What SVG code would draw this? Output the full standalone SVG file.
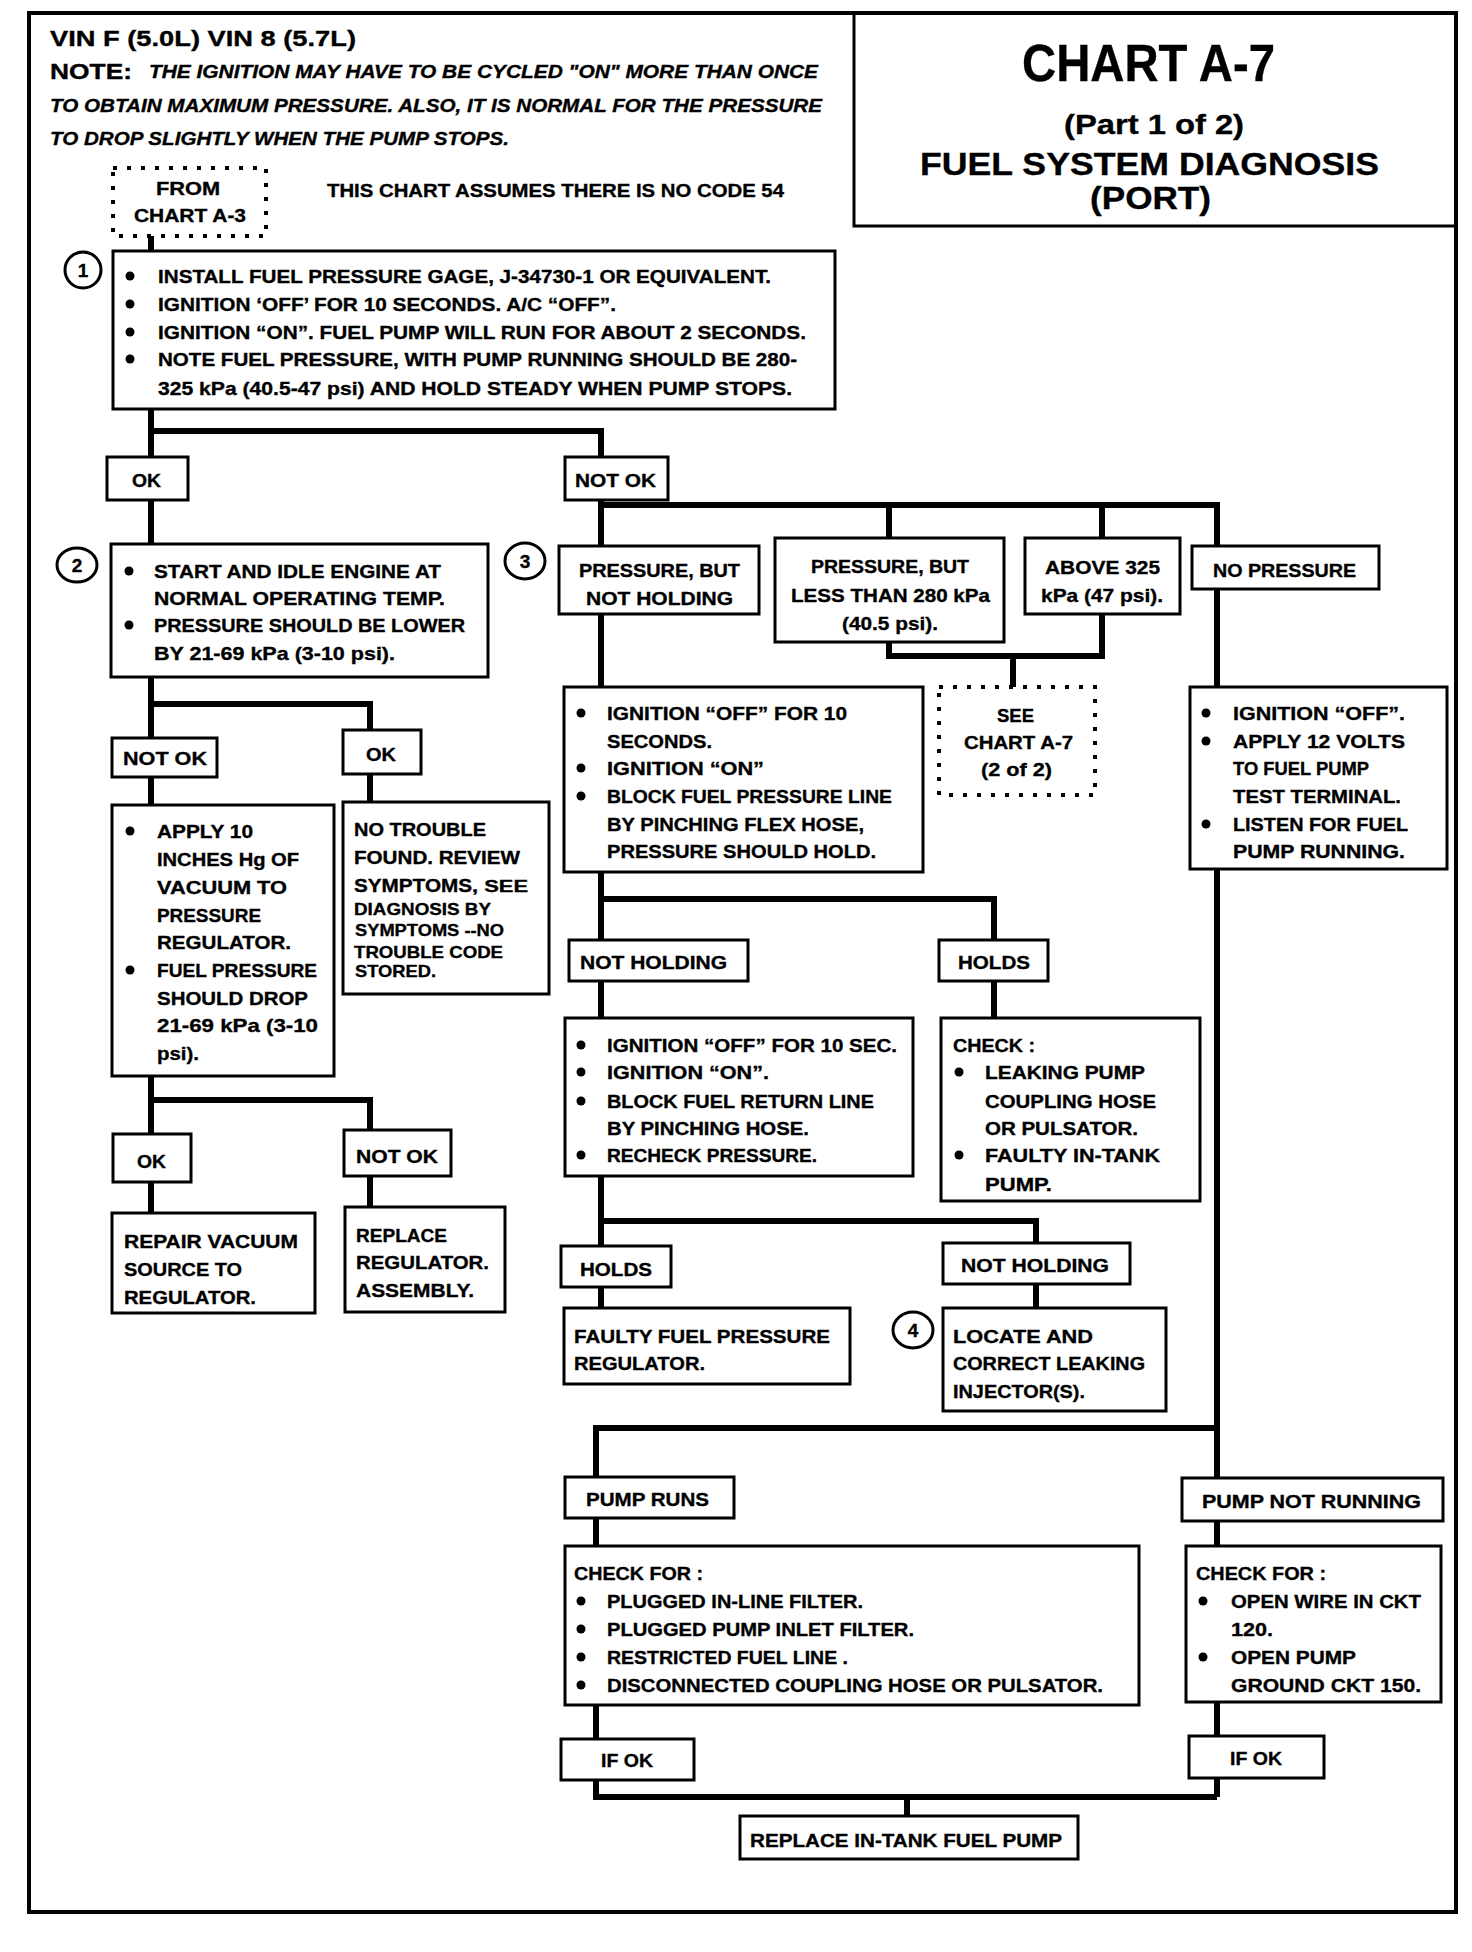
<svg xmlns="http://www.w3.org/2000/svg" width="1472" height="1952" viewBox="0 0 1472 1952">
<style>
.b{fill:#fff;stroke:#000;stroke-width:3}
.d{fill:#fff;stroke:#000;stroke-width:4;stroke-dasharray:4 10}
.c{fill:none;stroke:#000;stroke-width:6;stroke-linejoin:miter;stroke-linecap:butt}
.fr{fill:none;stroke:#000}
text{font-family:"Liberation Sans",Arial,sans-serif;font-weight:bold;font-size:19px;fill:#000;stroke:#000;stroke-width:0.35}
.i{font-style:italic;font-size:18px}
.s{font-size:17px}
.n{text-anchor:middle;font-size:19px}
.t1{font-size:52px}
.t2{font-size:28px}
.t3{font-size:32px}
.v{font-size:22px}
.u{fill:#000}
</style>
<rect x="0" y="0" width="1472" height="1952" fill="#fff"/>
<g id="frame">
<rect class="fr" x="29" y="13" width="1427" height="1899" stroke-width="4"/>
<rect class="fr" x="854" y="13" width="602" height="213" stroke-width="3"/>
</g>
<g id="title">
<text class="t1" x="1022" y="81" textLength="253" lengthAdjust="spacingAndGlyphs">CHART A-7</text>
<text class="t2" x="1064" y="134" textLength="180" lengthAdjust="spacingAndGlyphs">(Part 1 of 2)</text>
<text class="t3" x="920" y="175" textLength="459" lengthAdjust="spacingAndGlyphs">FUEL SYSTEM DIAGNOSIS</text>
<text class="t3" x="1090" y="209" textLength="121" lengthAdjust="spacingAndGlyphs">(PORT)</text>
</g>
<g id="header">
<text class="v" x="50" y="46" textLength="306" lengthAdjust="spacingAndGlyphs">VIN F (5.0L)    VIN 8 (5.7L)</text>
<text class="v" x="50" y="79" textLength="82" lengthAdjust="spacingAndGlyphs">NOTE:</text>
<text class="i" x="149" y="78" textLength="669" lengthAdjust="spacingAndGlyphs">THE IGNITION MAY HAVE TO BE CYCLED "ON" MORE THAN ONCE</text>
<text class="i" x="50" y="112" textLength="772" lengthAdjust="spacingAndGlyphs">TO OBTAIN MAXIMUM PRESSURE.  ALSO, IT IS NORMAL  FOR THE PRESSURE</text>
<text class="i" x="50" y="145" textLength="459" lengthAdjust="spacingAndGlyphs">TO DROP SLIGHTLY WHEN THE PUMP STOPS.</text>
<text x="327" y="197" textLength="457" lengthAdjust="spacingAndGlyphs">THIS CHART ASSUMES THERE IS NO CODE 54</text>
</g>
<g id="connectors">
<path class="c" d="M151,236 V251"/>
<path class="c" d="M151,409 V1213"/>
<path class="c" d="M151,431 H601 V1308"/>
<path class="c" d="M151,704 H370 V802"/>
<path class="c" d="M151,1100 H370 V1207"/>
<path class="c" d="M601,505 H1217 V1797"/>
<path class="c" d="M889,505 V538"/>
<path class="c" d="M1102,505 V538"/>
<path class="c" d="M889,642 V656 H1102 V614"/>
<path class="c" d="M1013,656 V687"/>
<path class="c" d="M601,899 H994 V1018"/>
<path class="c" d="M601,1221 H1036 V1308"/>
<path class="c" d="M1217,1428 H596 V1797 H1217"/>
<path class="c" d="M907,1797 V1816"/>
</g>
<g id="from">
<rect class="d" x="113" y="168" width="153" height="68"/>
<text x="156" y="195" textLength="64" lengthAdjust="spacingAndGlyphs">FROM</text>
<text x="134" y="222" textLength="112" lengthAdjust="spacingAndGlyphs">CHART A-3</text>
</g>
<g id="step1">
<ellipse class="b" cx="83" cy="270" rx="18" ry="18" stroke-width="2.5"/>
<text class="n" x="83" y="277">1</text>
<rect class="b" x="113" y="251" width="722" height="158"/>
<circle class="u" cx="130" cy="276" r="4.5"/><circle class="u" cx="130" cy="304" r="4.5"/><circle class="u" cx="130" cy="332" r="4.5"/><circle class="u" cx="130" cy="359" r="4.5"/>
<text x="158" y="283" textLength="613" lengthAdjust="spacingAndGlyphs">INSTALL FUEL PRESSURE GAGE, J-34730-1 OR  EQUIVALENT.</text>
<text x="158" y="311" textLength="458" lengthAdjust="spacingAndGlyphs">IGNITION ‘OFF’ FOR 10 SECONDS.  A/C “OFF”.</text>
<text x="158" y="339" textLength="648" lengthAdjust="spacingAndGlyphs">IGNITION “ON”.  FUEL PUMP WILL RUN FOR ABOUT 2 SECONDS.</text>
<text x="158" y="366" textLength="639" lengthAdjust="spacingAndGlyphs">NOTE FUEL PRESSURE, WITH PUMP RUNNING  SHOULD BE 280-</text>
<text x="158" y="395" textLength="634" lengthAdjust="spacingAndGlyphs">325 kPa  (40.5-47 psi) AND HOLD STEADY WHEN PUMP STOPS.</text>
</g>
<g id="ok1">
<rect class="b" x="107" y="457" width="81" height="43"/>
<text x="132" y="487" textLength="29" lengthAdjust="spacingAndGlyphs">OK</text>
</g>
<g id="notok1">
<rect class="b" x="565" y="457" width="103" height="43"/>
<text x="575" y="487" textLength="81" lengthAdjust="spacingAndGlyphs">NOT OK</text>
</g>
<g id="step2">
<ellipse class="b" cx="77" cy="565" rx="20" ry="17" stroke-width="2.5"/>
<text class="n" x="77" y="572">2</text>
<rect class="b" x="111" y="544" width="377" height="133"/>
<circle class="u" cx="129" cy="571" r="4.5"/><circle class="u" cx="129" cy="625" r="4.5"/>
<text x="154" y="578" textLength="287" lengthAdjust="spacingAndGlyphs">START AND IDLE ENGINE AT</text>
<text x="154" y="605" textLength="291" lengthAdjust="spacingAndGlyphs">NORMAL OPERATING TEMP.</text>
<text x="154" y="632" textLength="311" lengthAdjust="spacingAndGlyphs">PRESSURE SHOULD BE LOWER</text>
<text x="154" y="660" textLength="241" lengthAdjust="spacingAndGlyphs">BY 21-69 kPa  (3-10 psi).</text>
</g>
<g id="notok2">
<rect class="b" x="112" y="738" width="105" height="39"/>
<text x="123" y="765" textLength="84" lengthAdjust="spacingAndGlyphs">NOT OK</text>
</g>
<g id="ok2">
<rect class="b" x="343" y="730" width="78" height="44"/>
<text x="366" y="761" textLength="30" lengthAdjust="spacingAndGlyphs">OK</text>
</g>
<g id="vacuum">
<rect class="b" x="112" y="805" width="222" height="271"/>
<circle class="u" cx="130" cy="831" r="4.5"/><circle class="u" cx="130" cy="970" r="4.5"/>
<text x="157" y="838" textLength="96" lengthAdjust="spacingAndGlyphs">APPLY 10</text>
<text x="157" y="866" textLength="142" lengthAdjust="spacingAndGlyphs">INCHES Hg OF</text>
<text x="157" y="894" textLength="130" lengthAdjust="spacingAndGlyphs">VACUUM TO</text>
<text x="157" y="922" textLength="104" lengthAdjust="spacingAndGlyphs">PRESSURE</text>
<text x="157" y="949" textLength="134" lengthAdjust="spacingAndGlyphs">REGULATOR.</text>
<text x="157" y="977" textLength="160" lengthAdjust="spacingAndGlyphs">FUEL PRESSURE</text>
<text x="157" y="1005" textLength="151" lengthAdjust="spacingAndGlyphs">SHOULD DROP</text>
<text x="157" y="1032" textLength="161" lengthAdjust="spacingAndGlyphs">21-69 kPa  (3-10</text>
<text x="157" y="1060" textLength="42" lengthAdjust="spacingAndGlyphs">psi).</text>
</g>
<g id="notrouble">
<rect class="b" x="343" y="802" width="206" height="192"/>
<text x="354" y="836" textLength="132" lengthAdjust="spacingAndGlyphs">NO TROUBLE</text>
<text x="354" y="864" textLength="166" lengthAdjust="spacingAndGlyphs">FOUND. REVIEW</text>
<text x="354" y="892" textLength="118" lengthAdjust="spacingAndGlyphs">SYMPTOMS</text>
<text class="s" x="472" y="892" textLength="56" lengthAdjust="spacingAndGlyphs">, SEE</text>
<text class="s" x="354" y="915" textLength="137" lengthAdjust="spacingAndGlyphs">DIAGNOSIS  BY</text>
<text class="s" x="355" y="936" textLength="149" lengthAdjust="spacingAndGlyphs">SYMPTOMS --NO</text>
<text class="s" x="354" y="958" textLength="149" lengthAdjust="spacingAndGlyphs">TROUBLE  CODE</text>
<text class="s" x="355" y="977" textLength="81" lengthAdjust="spacingAndGlyphs">STORED.</text>
</g>
<g id="ok3">
<rect class="b" x="113" y="1134" width="78" height="48"/>
<text x="137" y="1168" textLength="29" lengthAdjust="spacingAndGlyphs">OK</text>
</g>
<g id="notok3">
<rect class="b" x="344" y="1130" width="107" height="46"/>
<text x="356" y="1163" textLength="82" lengthAdjust="spacingAndGlyphs">NOT OK</text>
</g>
<g id="repairvacuum">
<rect class="b" x="112" y="1213" width="203" height="100"/>
<text x="124" y="1248" textLength="174" lengthAdjust="spacingAndGlyphs">REPAIR VACUUM</text>
<text x="124" y="1276" textLength="118" lengthAdjust="spacingAndGlyphs">SOURCE TO</text>
<text x="124" y="1304" textLength="132" lengthAdjust="spacingAndGlyphs">REGULATOR.</text>
</g>
<g id="replaceregulator">
<rect class="b" x="345" y="1207" width="160" height="105"/>
<text x="356" y="1242" textLength="91" lengthAdjust="spacingAndGlyphs">REPLACE</text>
<text x="356" y="1269" textLength="133" lengthAdjust="spacingAndGlyphs">REGULATOR.</text>
<text x="356" y="1297" textLength="118" lengthAdjust="spacingAndGlyphs">ASSEMBLY.</text>
</g>
<g id="step3">
<ellipse class="b" cx="525" cy="561" rx="20" ry="18" stroke-width="2.5"/>
<text class="n" x="525" y="568">3</text>
</g>
<g id="notholdingpressure">
<rect class="b" x="559" y="546" width="200" height="68"/>
<text x="579" y="577" textLength="161" lengthAdjust="spacingAndGlyphs">PRESSURE,  BUT</text>
<text x="586" y="605" textLength="147" lengthAdjust="spacingAndGlyphs">NOT HOLDING</text>
</g>
<g id="lesspressure">
<rect class="b" x="775" y="538" width="229" height="104"/>
<text x="811" y="573" textLength="158" lengthAdjust="spacingAndGlyphs">PRESSURE, BUT</text>
<text x="791" y="602" textLength="199" lengthAdjust="spacingAndGlyphs">LESS THAN 280 kPa</text>
<text x="842" y="630" textLength="96" lengthAdjust="spacingAndGlyphs">(40.5 psi).</text>
</g>
<g id="above">
<rect class="b" x="1025" y="538" width="155" height="76"/>
<text x="1045" y="574" textLength="115" lengthAdjust="spacingAndGlyphs">ABOVE 325</text>
<text x="1041" y="602" textLength="122" lengthAdjust="spacingAndGlyphs">kPa (47 psi).</text>
</g>
<g id="nopressure">
<rect class="b" x="1192" y="546" width="187" height="43"/>
<text x="1213" y="577" textLength="143" lengthAdjust="spacingAndGlyphs">NO PRESSURE</text>
</g>
<g id="see">
<rect class="d" x="939" y="687" width="156" height="108"/>
<text x="997" y="722" textLength="37" lengthAdjust="spacingAndGlyphs">SEE</text>
<text x="964" y="749" textLength="109" lengthAdjust="spacingAndGlyphs">CHART A-7</text>
<text x="981" y="776" textLength="71" lengthAdjust="spacingAndGlyphs">(2 of 2)</text>
</g>
<g id="blockpressure">
<rect class="b" x="564" y="687" width="359" height="185"/>
<circle class="u" cx="581" cy="713" r="4.5"/><circle class="u" cx="581" cy="768" r="4.5"/><circle class="u" cx="581" cy="796" r="4.5"/>
<text x="607" y="720" textLength="240" lengthAdjust="spacingAndGlyphs">IGNITION “OFF” FOR 10</text>
<text x="607" y="748" textLength="105" lengthAdjust="spacingAndGlyphs">SECONDS.</text>
<text x="607" y="775" textLength="157" lengthAdjust="spacingAndGlyphs">IGNITION “ON”</text>
<text x="607" y="803" textLength="285" lengthAdjust="spacingAndGlyphs">BLOCK FUEL PRESSURE LINE</text>
<text x="607" y="831" textLength="257" lengthAdjust="spacingAndGlyphs">BY PINCHING FLEX HOSE,</text>
<text x="607" y="858" textLength="269" lengthAdjust="spacingAndGlyphs">PRESSURE SHOULD HOLD.</text>
</g>
<g id="testterminal">
<rect class="b" x="1190" y="687" width="257" height="182"/>
<circle class="u" cx="1206" cy="713" r="4.5"/><circle class="u" cx="1206" cy="741" r="4.5"/><circle class="u" cx="1206" cy="824" r="4.5"/>
<text x="1233" y="720" textLength="172" lengthAdjust="spacingAndGlyphs">IGNITION “OFF”.</text>
<text x="1233" y="748" textLength="172" lengthAdjust="spacingAndGlyphs">APPLY 12 VOLTS</text>
<text x="1233" y="775" textLength="136" lengthAdjust="spacingAndGlyphs">TO FUEL PUMP</text>
<text x="1233" y="803" textLength="168" lengthAdjust="spacingAndGlyphs">TEST TERMINAL.</text>
<text x="1233" y="831" textLength="175" lengthAdjust="spacingAndGlyphs">LISTEN FOR FUEL</text>
<text x="1233" y="858" textLength="172" lengthAdjust="spacingAndGlyphs">PUMP RUNNING.</text>
</g>
<g id="notholding1">
<rect class="b" x="569" y="940" width="179" height="41"/>
<text x="580" y="969" textLength="147" lengthAdjust="spacingAndGlyphs">NOT HOLDING</text>
</g>
<g id="holds1">
<rect class="b" x="939" y="940" width="109" height="41"/>
<text x="958" y="969" textLength="72" lengthAdjust="spacingAndGlyphs">HOLDS</text>
</g>
<g id="blockreturn">
<rect class="b" x="565" y="1018" width="348" height="158"/>
<circle class="u" cx="581" cy="1045" r="4.5"/><circle class="u" cx="581" cy="1072" r="4.5"/><circle class="u" cx="581" cy="1101" r="4.5"/><circle class="u" cx="581" cy="1155" r="4.5"/>
<text x="607" y="1052" textLength="290" lengthAdjust="spacingAndGlyphs">IGNITION “OFF” FOR 10 SEC.</text>
<text x="607" y="1079" textLength="162" lengthAdjust="spacingAndGlyphs">IGNITION “ON”.</text>
<text x="607" y="1108" textLength="267" lengthAdjust="spacingAndGlyphs">BLOCK  FUEL RETURN LINE</text>
<text x="607" y="1135" textLength="202" lengthAdjust="spacingAndGlyphs">BY PINCHING HOSE.</text>
<text x="607" y="1162" textLength="210" lengthAdjust="spacingAndGlyphs">RECHECK PRESSURE.</text>
</g>
<g id="checkleak">
<rect class="b" x="941" y="1018" width="259" height="183"/>
<text x="953" y="1052" textLength="82" lengthAdjust="spacingAndGlyphs">CHECK :</text>
<circle class="u" cx="959" cy="1072" r="4.5"/><circle class="u" cx="959" cy="1155" r="4.5"/>
<text x="985" y="1079" textLength="160" lengthAdjust="spacingAndGlyphs">LEAKING PUMP</text>
<text x="985" y="1108" textLength="171" lengthAdjust="spacingAndGlyphs">COUPLING HOSE</text>
<text x="985" y="1135" textLength="153" lengthAdjust="spacingAndGlyphs">OR PULSATOR.</text>
<text x="985" y="1162" textLength="175" lengthAdjust="spacingAndGlyphs">FAULTY IN-TANK</text>
<text x="985" y="1191" textLength="67" lengthAdjust="spacingAndGlyphs">PUMP.</text>
</g>
<g id="holds2">
<rect class="b" x="561" y="1246" width="110" height="41"/>
<text x="580" y="1276" textLength="72" lengthAdjust="spacingAndGlyphs">HOLDS</text>
</g>
<g id="notholding2">
<rect class="b" x="943" y="1243" width="187" height="41"/>
<text x="961" y="1272" textLength="148" lengthAdjust="spacingAndGlyphs">NOT HOLDING</text>
</g>
<g id="faultyregulator">
<rect class="b" x="564" y="1308" width="286" height="76"/>
<text x="574" y="1343" textLength="256" lengthAdjust="spacingAndGlyphs">FAULTY  FUEL  PRESSURE</text>
<text x="574" y="1370" textLength="131" lengthAdjust="spacingAndGlyphs">REGULATOR.</text>
</g>
<g id="step4">
<ellipse class="b" cx="913" cy="1330" rx="20" ry="18" stroke-width="2.5"/>
<text class="n" x="913" y="1337">4</text>
</g>
<g id="injector">
<rect class="b" x="943" y="1308" width="223" height="103"/>
<text x="953" y="1343" textLength="140" lengthAdjust="spacingAndGlyphs">LOCATE  AND</text>
<text x="953" y="1370" textLength="192" lengthAdjust="spacingAndGlyphs">CORRECT LEAKING</text>
<text x="953" y="1398" textLength="132" lengthAdjust="spacingAndGlyphs">INJECTOR(S).</text>
</g>
<g id="pumpruns">
<rect class="b" x="565" y="1477" width="169" height="41"/>
<text x="586" y="1506" textLength="123" lengthAdjust="spacingAndGlyphs">PUMP RUNS</text>
</g>
<g id="pumpnotrunning">
<rect class="b" x="1182" y="1478" width="261" height="43"/>
<text x="1202" y="1508" textLength="219" lengthAdjust="spacingAndGlyphs">PUMP NOT RUNNING</text>
</g>
<g id="checkfilters">
<rect class="b" x="565" y="1546" width="574" height="159"/>
<text x="574" y="1580" textLength="129" lengthAdjust="spacingAndGlyphs">CHECK FOR :</text>
<circle class="u" cx="581" cy="1601" r="4.5"/><circle class="u" cx="581" cy="1629" r="4.5"/><circle class="u" cx="581" cy="1657" r="4.5"/><circle class="u" cx="581" cy="1685" r="4.5"/>
<text x="607" y="1608" textLength="256" lengthAdjust="spacingAndGlyphs">PLUGGED IN-LINE FILTER.</text>
<text x="607" y="1636" textLength="307" lengthAdjust="spacingAndGlyphs">PLUGGED PUMP INLET FILTER.</text>
<text x="607" y="1664" textLength="241" lengthAdjust="spacingAndGlyphs">RESTRICTED FUEL LINE .</text>
<text x="607" y="1692" textLength="496" lengthAdjust="spacingAndGlyphs">DISCONNECTED COUPLING HOSE OR PULSATOR.</text>
</g>
<g id="checkcircuit">
<rect class="b" x="1186" y="1546" width="255" height="156"/>
<text x="1196" y="1580" textLength="130" lengthAdjust="spacingAndGlyphs">CHECK FOR :</text>
<circle class="u" cx="1203" cy="1601" r="4.5"/><circle class="u" cx="1203" cy="1657" r="4.5"/>
<text x="1231" y="1608" textLength="190" lengthAdjust="spacingAndGlyphs">OPEN WIRE IN CKT</text>
<text x="1231" y="1636" textLength="42" lengthAdjust="spacingAndGlyphs">120.</text>
<text x="1231" y="1664" textLength="125" lengthAdjust="spacingAndGlyphs">OPEN PUMP</text>
<text x="1231" y="1692" textLength="190" lengthAdjust="spacingAndGlyphs">GROUND CKT 150.</text>
</g>
<g id="ifok1">
<rect class="b" x="561" y="1739" width="133" height="41"/>
<text x="601" y="1767" textLength="52" lengthAdjust="spacingAndGlyphs">IF OK</text>
</g>
<g id="ifok2">
<rect class="b" x="1189" y="1736" width="135" height="42"/>
<text x="1230" y="1765" textLength="52" lengthAdjust="spacingAndGlyphs">IF OK</text>
</g>
<g id="replacepump">
<rect class="b" x="740" y="1816" width="338" height="43"/>
<text x="750" y="1847" textLength="312" lengthAdjust="spacingAndGlyphs">REPLACE  IN-TANK FUEL PUMP</text>
</g>
</svg>
